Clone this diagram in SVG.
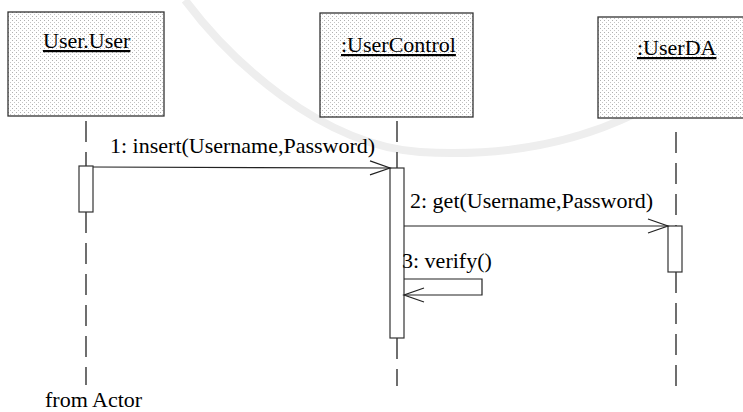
<svg xmlns="http://www.w3.org/2000/svg" width="743" height="412" viewBox="0 0 743 412">
  <defs>
    <pattern id="stipple" width="4" height="4" patternUnits="userSpaceOnUse">
      <rect width="4" height="4" fill="#ffffff"/>
      <rect x="0" y="0" width="1" height="1" fill="#b0b0b0"/>
      <rect x="2" y="2" width="1" height="1" fill="#c4c4c4"/>
    </pattern>
    <marker id="open" markerWidth="24" markerHeight="18" refX="21" refY="8" orient="auto" markerUnits="userSpaceOnUse">
      <path d="M1,1 L21,8 L1,15" fill="none" stroke="#222" stroke-width="1.2"/>
    </marker>
    <style>
      .lbl { font-family: 'Liberation Serif', 'DejaVu Serif', serif; font-size: 22px; fill: #000; }
      .obj { fill: url(#stipple); stroke: #333; stroke-width: 1.3; }
      .act { fill: #ffffff; stroke: #333; stroke-width: 1.2; }
      .life { stroke: #222; stroke-width: 1.3; stroke-dasharray: 21 10; fill: none; }
      .msg { stroke: #222; stroke-width: 1.2; fill: none; }
      .wm { stroke: #eeeeee; stroke-width: 8; fill: none; }
    </style>
  </defs>
  <rect width="743" height="412" fill="#ffffff"/>

  <g id="watermark">
    <path class="wm" d="M185,0 C230,60 320,145 420,152 C520,158 640,140 743,35"/>
  </g>

  <g font-family="Liberation Serif, DejaVu Serif, serif">
  <g id="node-user">
    <rect class="obj" x="8" y="12" width="156" height="104"/>
    <text class="lbl" font-family="Liberation Serif, serif" x="43" y="48" text-decoration="underline">User.User</text>
  </g>
  <g id="node-usercontrol">
    <rect class="obj" x="320" y="13" width="153" height="104"/>
    <text class="lbl" font-family="Liberation Serif, serif" x="341" y="52" text-decoration="underline">:UserControl</text>
  </g>
  <g id="node-userda">
    <rect class="obj" x="598" y="17" width="160" height="101"/>
    <text class="lbl" font-family="Liberation Serif, serif" x="637" y="55" text-decoration="underline">:UserDA</text>
  </g>

  <g id="lifelines">
    <line class="life" x1="86" y1="121" x2="86" y2="166"/>
    <line class="life" x1="86" y1="212" x2="86" y2="385"/>
    <line class="life" x1="397" y1="121" x2="397" y2="168"/>
    <line class="life" x1="397" y1="338" x2="397" y2="386"/>
    <line class="life" x1="676" y1="132" x2="676" y2="226"/>
    <line class="life" x1="676" y1="272" x2="676" y2="387"/>
  </g>

  <g id="activations">
    <rect class="act" x="79" y="166" width="14" height="46"/>
    <rect class="act" x="390" y="168" width="14" height="170"/>
    <rect class="act" x="668" y="226" width="14" height="46"/>
  </g>

  <g id="connectors">
    <line class="msg" x1="93" y1="167" x2="390" y2="168" marker-end="url(#open)"/>
    <text class="lbl" font-family="Liberation Serif, serif" x="110" y="153">1: insert(Username,Password)</text>
    <line class="msg" x1="404" y1="226" x2="668" y2="226" marker-end="url(#open)"/>
    <text class="lbl" font-family="Liberation Serif, serif" x="410" y="208">2: get(Username,Password)</text>
    <polyline class="msg" points="404,279 482,279 482,295 404,295" marker-end="url(#open)"/>
    <text class="lbl" font-family="Liberation Serif, serif" x="402" y="268">3: verify()</text>
  </g>

  <text class="lbl" font-family="Liberation Serif, serif" x="45" y="407">from Actor</text>
  </g>
</svg>
